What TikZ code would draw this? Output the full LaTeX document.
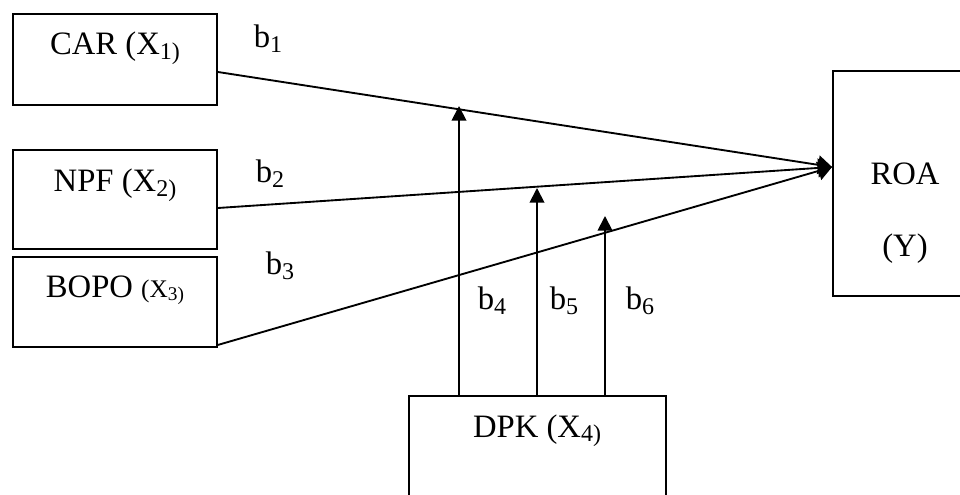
\documentclass[tikz,border=0pt]{standalone}
\usepackage{fontspec}
\setmainfont{Liberation Serif}
\usetikzlibrary{arrows.meta,calc}
\newcommand{\sbx}[1]{\raisebox{-0.14em}{\fontsize{18}{20}\selectfont #1}}
\newcommand{\sbsmall}[1]{\raisebox{-0.14em}{\fontsize{14.5}{16}\selectfont #1}}
\begin{document}
\begin{tikzpicture}[x=0.75pt,y=-0.75pt,
  box/.style={draw,line width=1.4pt,inner sep=0pt},
  lbl/.style={inner sep=0pt,anchor=base,font=\fontsize{24.5}{29}\selectfont},
  conn/.style={line width=1.4pt},
  tipR/.style={-{Triangle[length=10.5pt,width=14pt]}},
  tipU/.style={-{Triangle[length=11pt,width=11pt]}}]
\useasboundingbox (0,0) rectangle (960,495);
\clip (0,0) rectangle (960,495);
\fill[white] (0,0) rectangle (960,495);
% boxes
\node[box,minimum width=153pt,minimum height=68.25pt] (car) at (115,59.5) {};
\node[box,minimum width=153pt,minimum height=74.25pt] (npf) at (115,199.5) {};
\node[box,minimum width=153pt,minimum height=67.5pt] (bopo) at (115,302) {};
\node[box,minimum width=110.25pt,minimum height=168.75pt] (roa) at (906.5,183.5) {};
\node[box,minimum width=192.75pt,minimum height=93pt] (dpk) at (537.5,458) {};
% box texts
\node[lbl] (tcar) at (115,55) {CAR (X\sbx{1)}};
\node[lbl] (tnpf) at (115,192) {NPF (X\sbx{2)}};
\node[lbl] (tbopo) at (115,297) {BOPO {\fontsize{19}{22}\selectfont(X\sbsmall{3)}}};
\node[lbl] (troa) at (905,185) {ROA};
\node[lbl] (ty) at (905,257) {(Y)};
\node[lbl] (tdpk) at (537,437) {DPK (X\sbx{4)}};
% coefficient labels
\node[lbl] (b1) at (268,48) {b\sbx{1}};
\node[lbl] (b2) at (270,183) {b\sbx{2}};
\node[lbl] (b3) at (280,275) {b\sbx{3}};
\node[lbl] (b4) at (492,310) {b\sbx{4}};
\node[lbl] (b5) at (564,310) {b\sbx{5}};
\node[lbl] (b6) at (640,310) {b\sbx{6}};
% connectors to ROA
\coordinate (target) at ($(roa.west)+(0,-16.5)$);
\draw[conn,tipR] ($(car.east)+(0,12.5)$) -- (target);
\draw[conn,tipR] ($(npf.east)+(0,8.5)$) -- (target);
\draw[conn,tipR] ($(bopo.south east)+(0,-3)$) -- (target);
% moderating arrows
\coordinate (m4) at (459,106);
\coordinate (m5) at (537,188);
\coordinate (m6) at (605,216);
\draw[conn,tipU] (dpk.north -| m4) -- (m4);
\draw[conn,tipU] (dpk.north -| m5) -- (m5);
\draw[conn,tipU] (dpk.north -| m6) -- (m6);
\end{tikzpicture}
\end{document}
